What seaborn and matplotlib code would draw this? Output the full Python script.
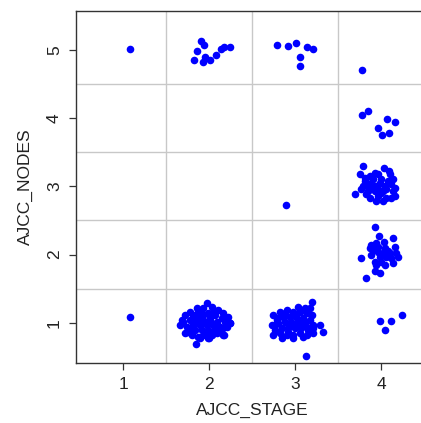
import numpy as np
import pandas as pd
import matplotlib
matplotlib.use("Agg")
import matplotlib.pyplot as plt
import seaborn as sns

# ---- data (jittered positions) ----
s1_x = [1.08, 1.08]
s1_y = [5.01, 1.08]

s2n5_x = [1.826, 1.864, 1.907, 1.934, 1.930, 1.953, 2.008, 2.078, 2.140, 2.171, 2.248]
s2n5_y = [4.85, 4.98, 5.13, 5.08, 4.83, 4.89, 4.86, 4.93, 5.01, 5.04, 5.04]

s2n1_x = [1.969, 1.853, 1.931, 2.028, 2.105, 2.163, 2.221, 1.776, 1.717, 1.814, 1.892,
          1.989, 2.066, 2.144, 2.241, 1.698, 1.776, 1.853, 1.931, 2.008, 2.086, 2.183,
          1.737, 1.814, 1.892, 1.969, 2.047, 2.124, 2.202, 1.756, 1.834, 1.911, 1.989,
          2.066, 2.124, 1.717, 1.795, 1.872, 1.950, 2.028, 2.163, 1.892, 1.989, 1.845,
          2.086, 1.659, 2.047, 1.872, 1.776, 1.931, 2.008, 2.086, 2.163, 1.678, 2.178,
          1.996, 1.891, 2.248]
s2n1_y = [1.284, 1.211, 1.211, 1.235, 1.186, 1.137, 1.088, 1.162, 1.113, 1.113, 1.113,
          1.137, 1.113, 1.064, 0.990, 1.015, 1.039, 1.039, 1.039, 1.039, 1.015, 1.015,
          0.941, 0.966, 0.966, 0.966, 0.966, 0.941, 0.941, 0.868, 0.892, 0.892, 0.892,
          0.892, 0.868, 0.843, 0.819, 0.794, 0.819, 0.819, 0.819, 0.770, 0.770, 0.696,
          0.843, 0.966, 1.162, 1.162, 0.917, 1.113, 1.088, 0.966, 0.917, 1.034, 0.814,
          0.780, 0.794, 1.000]

s3n5_x = [2.787, 2.922, 3.012, 3.143, 3.213, 3.062, 3.058]
s3n5_y = [5.08, 5.06, 5.10, 5.05, 5.02, 4.89, 4.77]

s3n3_x = [2.895]
s3n3_y = [2.72]

s3n1_x = [3.191, 3.036, 3.113, 3.171, 2.823, 2.900, 2.978, 3.055, 3.133, 3.202, 2.745,
          2.784, 2.861, 2.939, 3.016, 3.094, 3.171, 2.726, 2.803, 2.881, 2.958, 3.036,
          3.113, 3.210, 3.288, 2.764, 2.842, 2.919, 2.997, 3.074, 3.152, 3.319, 2.745,
          2.823, 2.900, 2.978, 3.055, 3.133, 3.210, 2.842, 2.978, 3.094, 2.784, 2.881,
          2.958, 3.036, 3.133, 3.210, 2.764, 2.919, 3.128]
s3n1_y = [1.309, 1.235, 1.211, 1.211, 1.162, 1.186, 1.162, 1.162, 1.137, 1.113, 1.113,
          1.064, 1.088, 1.088, 1.088, 1.064, 1.039, 0.966, 0.990, 1.015, 1.015, 1.015,
          0.990, 0.966, 0.966, 0.892, 0.917, 0.917, 0.917, 0.917, 0.892, 0.868, 0.819,
          0.843, 0.819, 0.819, 0.843, 0.819, 0.843, 0.770, 0.770, 0.794, 1.039, 1.137,
          0.966, 0.966, 0.941, 0.917, 0.966, 0.868, 0.51]

s4n5_x = [3.775]
s4n5_y = [4.71]

s4n4_x = [3.779, 3.853, 4.074, 4.163, 3.965, 4.008, 4.097]
s4n4_y = [4.05, 4.11, 3.99, 3.95, 3.85, 3.75, 3.78]

s4n3_x = [3.791, 4.031, 4.090, 3.752, 3.869, 3.966, 4.101, 3.810, 3.907, 4.004, 4.121,
          3.694, 3.772, 3.849, 3.946, 4.043, 4.140, 3.830, 3.927, 4.024, 4.159, 3.869,
          3.966, 4.062, 3.946, 4.024, 4.121, 3.791, 3.888, 3.985, 4.082, 4.004, 3.907,
          4.159, 3.810, 4.062, 3.966, 3.849, 4.140, 3.927]
s4n3_y = [3.299, 3.274, 3.225, 3.176, 3.152, 3.176, 3.176, 3.078, 3.103, 3.103, 3.029,
          2.882, 2.956, 3.005, 3.005, 3.005, 2.931, 2.882, 2.931, 2.931, 2.858, 2.833,
          2.858, 2.833, 2.784, 2.784, 2.833, 3.005, 3.054, 3.054, 3.078, 2.907, 2.980,
          2.980, 3.127, 2.956, 2.956, 2.931, 3.103, 3.201]

s4n2_x = [3.927, 3.977, 4.140, 3.888, 3.946, 4.035, 4.159, 3.772, 3.907, 3.966, 4.043,
          4.101, 4.179, 4.198, 3.985, 4.062, 3.927, 4.004, 4.121, 4.140, 3.946, 4.043,
          3.927, 3.985, 3.830, 3.888, 4.024, 4.082, 3.966, 3.869]
s4n2_y = [2.397, 2.279, 2.240, 2.142, 2.166, 2.191, 2.117, 1.956, 2.068, 2.044, 2.093,
          2.019, 2.019, 1.970, 1.970, 1.970, 1.897, 1.897, 1.946, 1.872, 1.848, 1.848,
          1.760, 1.725, 1.652, 1.995, 2.019, 2.054, 2.117, 2.093]

s4n1_x = [3.988, 4.047, 4.116, 4.244]
s4n1_y = [1.02, 0.90, 1.03, 1.11]

x_ticks = [1, 2, 3, 4]
y_ticks = [1, 2, 3, 4, 5]
x_label = "AJCC_STAGE"
y_label = "AJCC_NODES"

xs = (s1_x + s2n5_x + s2n1_x + s3n5_x + s3n3_x + s3n1_x + s4n5_x + s4n4_x
      + s4n3_x + s4n2_x + s4n1_x)
ys = (s1_y + s2n5_y + s2n1_y + s3n5_y + s3n3_y + s3n1_y + s4n5_y + s4n4_y
      + s4n3_y + s4n2_y + s4n1_y)
df = pd.DataFrame({x_label: xs, y_label: ys})

# ---- figure ----
sns.set_style("white")
plt.rcParams["font.family"] = ["Liberation Sans", "DejaVu Sans"]

fig = plt.figure(figsize=(4.21, 4.23), dpi=100)
ax = fig.add_axes([0.1805, 0.1418, 0.8368, 0.832])

sns.scatterplot(data=df, x=x_label, y=y_label, ax=ax, color="#0000FF",
                s=30, linewidth=0, zorder=3)

ax.set_xlim(0.45, 4.55)
ax.set_ylim(0.41, 5.57)

ax.set_xticks(x_ticks)
ax.set_yticks(y_ticks)
ax.set_xticks([1.5, 2.5, 3.5], minor=True)
ax.set_yticks([1.5, 2.5, 3.5, 4.5], minor=True)
ax.grid(which="minor", color="#C8C8C8", linewidth=1.0, zorder=0)
ax.grid(which="major", visible=False)
ax.set_axisbelow(True)

ax.tick_params(axis="both", which="major", direction="out", length=5,
               width=0.9, color="#333333", labelsize=12.5, labelcolor="#222222",
               bottom=True, left=True, pad=5)
ax.tick_params(axis="both", which="minor", length=0)
for lab in ax.get_yticklabels():
    lab.set_rotation(90)
    lab.set_va("center")

for side in ["left", "bottom", "top"]:
    ax.spines[side].set_visible(True)
    ax.spines[side].set_color("#333333")
    ax.spines[side].set_linewidth(1.0)
ax.spines["right"].set_visible(False)

ax.set_xlabel(x_label, fontsize=12.5, color="#222222", labelpad=8)
ax.set_ylabel(y_label, fontsize=12.5, color="#222222", labelpad=10)

fig.savefig("out.png", dpi=100)
